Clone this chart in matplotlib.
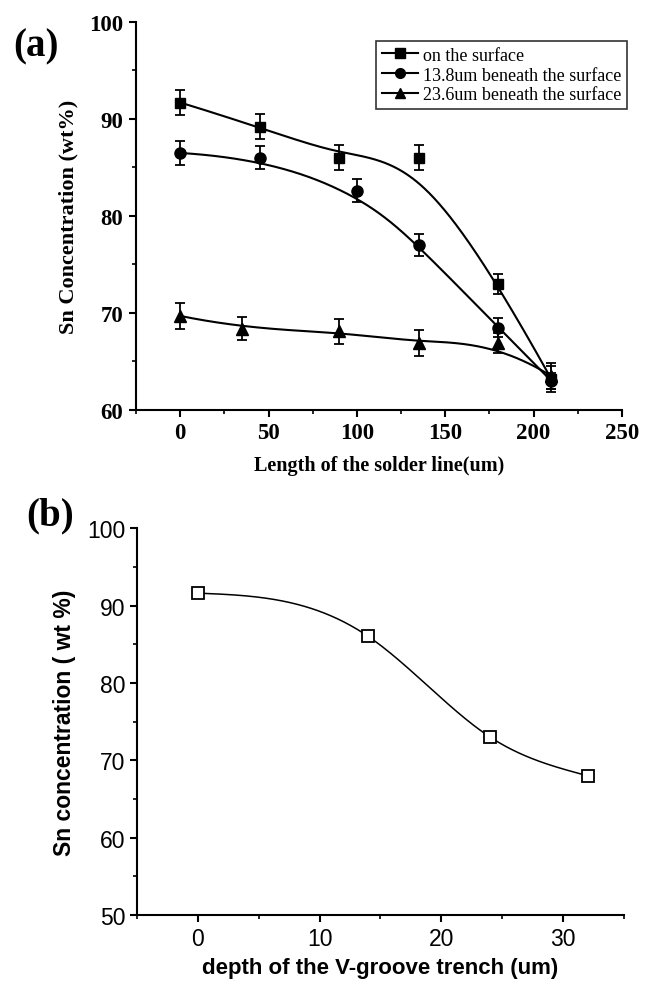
import numpy as np
import matplotlib
matplotlib.use("Agg")
import matplotlib.pyplot as plt
from matplotlib.ticker import MultipleLocator

# ---------------- data (a) ----------------
surf_x = [0, 45, 90, 135, 180, 210]
surf_y = [91.7, 89.2, 86.0, 86.0, 73.0, 63.2]
surf_err = [1.3, 1.3, 1.3, 1.3, 1.0, 1.3]

d138_x = [0, 45, 100, 135, 180, 210]
d138_y = [86.5, 86.0, 82.6, 77.0, 68.5, 63.0]
d138_err = [1.2, 1.2, 1.2, 1.1, 1.0, 0.8]

d236_x = [0, 35, 90, 135, 180, 210]
d236_y = [69.7, 68.4, 68.1, 66.9, 66.9, 63.5]
d236_err = [1.3, 1.2, 1.3, 1.3, 1.0, 1.3]

labels_a = ["on the surface", "13.8um beneath the surface", "23.6um beneath the surface"]

# ---------------- data (b) ----------------
depth_x = [0, 14, 24, 32]
depth_y = [91.6, 86.0, 73.0, 68.0]


def bspline(xs, ys, n=300, k=3):
    P = np.column_stack([xs, ys]).astype(float)
    m = len(P)
    knots = np.concatenate([np.zeros(k), np.linspace(0, 1, m - k + 1), np.ones(k)])
    out = []
    for t in np.linspace(0, 1 - 1e-9, n):
        j = np.searchsorted(knots, t, side="right") - 1
        d = [P[j - k + i].copy() for i in range(k + 1)]
        for r in range(1, k + 1):
            for i in range(k, r - 1, -1):
                idx = i + j - k
                a = (t - knots[idx]) / (knots[idx + k + 1 - r] - knots[idx])
                d[i] = (1 - a) * d[i - 1] + a * d[i]
        out.append(d[k])
    out.append(P[-1])
    out = np.array(out)
    return out[:, 0], out[:, 1]


def natural_spline(xs, ys, n=300):
    x = np.array(xs, float); y = np.array(ys, float)
    m = len(x); h = np.diff(x)
    A = np.zeros((m, m)); b = np.zeros(m)
    A[0, 0] = A[-1, -1] = 1
    for i in range(1, m - 1):
        A[i, i - 1] = h[i - 1]; A[i, i] = 2 * (h[i - 1] + h[i]); A[i, i + 1] = h[i]
        b[i] = 3 * ((y[i + 1] - y[i]) / h[i] - (y[i] - y[i - 1]) / h[i - 1])
    c = np.linalg.solve(A, b)
    xx = np.linspace(x[0], x[-1], n); yy = np.empty_like(xx)
    for j, t in enumerate(xx):
        i = min(np.searchsorted(x, t, side="right") - 1, m - 2)
        bi = (y[i + 1] - y[i]) / h[i] - h[i] * (2 * c[i] + c[i + 1]) / 3
        di = (c[i + 1] - c[i]) / (3 * h[i])
        dx = t - x[i]
        yy[j] = y[i] + bi * dx + c[i] * dx ** 2 + di * dx ** 3
    return xx, yy


fig = plt.figure(figsize=(6.46, 9.87), dpi=100)

serif = "Liberation Serif"
sans = "Liberation Sans"

# ---------------- panel (a) ----------------
ax1 = fig.add_axes([0.2105, 0.5836, 0.7523, 0.3931])
series = [(surf_x, surf_y, surf_err, "s", 7.5),
          (d138_x, d138_y, d138_err, "o", 8),
          (d236_x, d236_y, d236_err, "^", 8.5)]
handles = []
for (xs, ys, es, mk, ms), lab in zip(series, labels_a):
    bx, by = bspline(xs, ys)
    ax1.plot(bx, by, color="black", lw=1.5, zorder=2)
    ax1.errorbar(xs, ys, yerr=es, fmt="none", ecolor="black", elinewidth=1.3,
                 capsize=3.5, capthick=1.3, zorder=3)
    ax1.plot(xs, ys, linestyle="none", marker=mk, ms=ms, color="black", zorder=4)
    h, = ax1.plot([], [], color="black", lw=1.5, marker=mk, ms=ms - 1, label=lab)
    handles.append(h)

ax1.set_xlim(-25, 250)
ax1.set_ylim(60, 100)
ax1.xaxis.set_major_locator(MultipleLocator(50))
ax1.xaxis.set_minor_locator(MultipleLocator(25))
ax1.yaxis.set_major_locator(MultipleLocator(10))
ax1.yaxis.set_minor_locator(MultipleLocator(5))
for s in ["top", "right"]:
    ax1.spines[s].set_visible(False)
for s in ["left", "bottom"]:
    ax1.spines[s].set_linewidth(1.5)
ax1.tick_params(which="major", direction="out", length=5, width=1.5, labelsize=16.5, pad=4)
ax1.tick_params(which="minor", direction="out", length=3, width=1.2)
for t in ax1.get_xticklabels() + ax1.get_yticklabels():
    t.set_fontfamily(serif)
    t.set_fontweight("bold")
ax1.set_xlabel("Length of the solder line(um)", fontfamily=serif, fontweight="bold",
               fontsize=14.5, labelpad=8)
ax1.set_ylabel("Sn Concentration (wt%)", fontfamily=serif, fontweight="bold",
               fontsize=16, labelpad=8)
leg = ax1.legend(handles=handles, loc="upper right", bbox_to_anchor=(1.01, 0.95),
                 prop={"family": serif, "size": 13}, frameon=True, fancybox=False,
                 handlelength=2.0, handletextpad=0.3, labelspacing=0.15,
                 borderpad=0.3, borderaxespad=0)
leg.get_frame().set_edgecolor("black")
leg.get_frame().set_linewidth(1.2)
fig.text(0.02, 0.943, "(a)", fontfamily=serif, fontweight="bold", fontsize=28)

# ---------------- panel (b) ----------------
ax2 = fig.add_axes([0.212, 0.0719, 0.754, 0.392])
cx, cy = natural_spline(depth_x, depth_y)
ax2.plot(cx, cy, color="black", lw=1.1, zorder=2)
ax2.plot(depth_x, depth_y, linestyle="none", marker="s", ms=9, mfc="white",
         mec="black", mew=1.3, zorder=3)
ax2.set_xlim(-5, 35)
ax2.set_ylim(50, 100)
ax2.xaxis.set_major_locator(MultipleLocator(10))
ax2.xaxis.set_minor_locator(MultipleLocator(5))
ax2.yaxis.set_major_locator(MultipleLocator(10))
ax2.yaxis.set_minor_locator(MultipleLocator(5))
for s in ["top", "right"]:
    ax2.spines[s].set_visible(False)
for s in ["left", "bottom"]:
    ax2.spines[s].set_linewidth(1.5)
ax2.tick_params(which="major", direction="out", length=5, width=1.5, labelsize=16.5)
ax2.tick_params(which="minor", direction="out", length=3, width=1.2)
for t in ax2.get_xticklabels() + ax2.get_yticklabels():
    t.set_fontfamily(sans)
ax2.set_xlabel("depth of the V-groove trench (um)", fontfamily=sans, fontweight="bold",
               fontsize=16, labelpad=5)
ax2.set_ylabel("Sn concentration ( wt %)", fontfamily=sans, fontweight="bold",
               fontsize=16.5, labelpad=8)
fig.text(0.04, 0.468, "(b)", fontfamily=serif, fontweight="bold", fontsize=28)

fig.savefig("out.png", dpi=100)
